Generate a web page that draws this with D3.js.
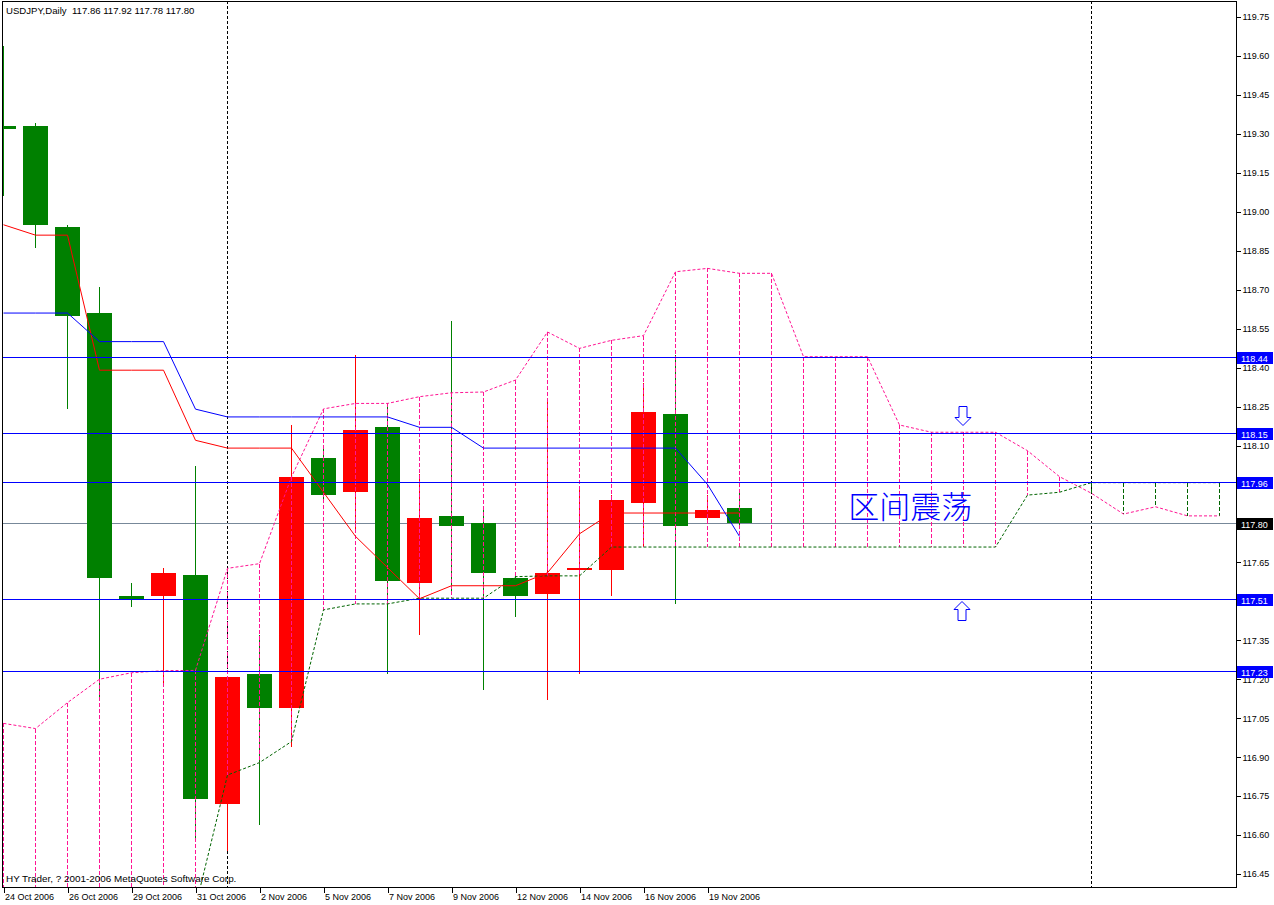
<!DOCTYPE html>
<html><head><meta charset="utf-8">
<script src="https://cdn.jsdelivr.net/npm/d3@7"></script>
<style>
body{margin:0;background:#fff;}
svg{display:block;}
text{font-family:"Liberation Sans",Arial,sans-serif;}
</style>
</head><body>
<svg id="chart" width="1274" height="905"></svg>
<script>
// ---------- DATA ----------
const dates = ["24 Oct 2006","25 Oct 2006","26 Oct 2006","27 Oct 2006","29 Oct 2006","30 Oct 2006",
  "31 Oct 2006","1 Nov 2006","2 Nov 2006","3 Nov 2006","5 Nov 2006","6 Nov 2006","7 Nov 2006",
  "8 Nov 2006","9 Nov 2006","10 Nov 2006","12 Nov 2006","13 Nov 2006","14 Nov 2006","15 Nov 2006",
  "16 Nov 2006","17 Nov 2006","19 Nov 2006","20 Nov 2006"];
const openP  = [119.33,119.33,118.94,118.61,117.52,117.52,117.60,116.72,117.22,117.09,118.05,117.92,118.17,117.57,117.83,117.80,117.59,117.53,117.62,117.62,117.88,118.22,117.82,117.86];
const highP  = [119.64,119.34,118.95,118.71,117.57,117.63,118.02,117.21,117.37,118.18,118.10,118.45,118.26,117.99,118.58,117.85,117.60,118.28,117.94,117.91,118.34,118.45,117.91,117.92];
const lowP   = [119.06,118.86,118.24,117.13,117.48,117.18,116.59,116.54,116.64,116.94,117.89,117.77,117.22,117.37,117.53,117.16,117.44,117.12,117.22,117.52,117.71,117.49,117.81,117.78];
const closeP = [119.32,118.95,118.60,117.59,117.51,117.61,116.74,117.21,117.09,117.98,117.91,118.16,117.58,117.82,117.79,117.61,117.52,117.61,117.63,117.89,118.23,117.79,117.85,117.80];
const tenkan = [118.95,118.91,118.91,118.39,118.39,118.39,118.12,118.09,118.09,118.09,117.92,117.75,117.63,117.51,117.56,117.56,117.56,117.61,117.76,117.84,117.84,117.84,117.84,117.84];
const kijun  = [118.61,118.61,118.61,118.50,118.50,118.50,118.24,118.21,118.21,118.21,118.21,118.21,118.21,118.17,118.17,118.09,118.09,118.09,118.09,118.09,118.09,118.09,117.95,117.75];
// Senkou spans (shifted forward, index 0..38 visible)
const spanPink = [117.03,117.01,117.11,117.20,117.225,117.233,117.234,117.627,117.645,117.979,118.241,118.262,118.262,118.288,118.303,118.306,118.352,118.537,118.474,118.505,118.523,118.769,118.782,118.763,118.763,118.442,118.442,118.442,118.179,118.151,118.151,118.151,118.080,117.980,117.916,117.836,117.864,117.829,117.829];
const spanGreen = [116.10,116.10,116.15,116.20,116.25,116.28,116.323,116.831,116.879,116.960,117.467,117.490,117.490,117.512,117.512,117.512,117.595,117.598,117.598,117.709,117.709,117.709,117.709,117.709,117.709,117.709,117.709,117.709,117.709,117.709,117.709,117.709,117.909,117.920,117.957,117.957,117.957,117.957,117.957];
const levelLines = [118.44,118.15,117.96,117.51,117.23];
const bidPrice = 117.80;
const priceTicks = [119.75,119.60,119.45,119.30,119.15,119.00,118.85,118.70,118.55,118.40,118.25,118.10,117.95,117.80,117.65,117.50,117.35,117.20,117.05,116.90,116.75,116.60,116.45];
const dateTickIdx = [0,2,4,6,8,10,12,14,16,18,20,22];
const separatorIdx = [7,34];
const titleText = "USDJPY,Daily  117.86 117.92 117.78 117.80";
const copyText = "HY Trader, ? 2001-2006 MetaQuotes Software Corp.";
const noteText = "区间震荡";
const notePos = {i:26.40, p:117.822};
const arrowDown = {i:30, p:118.18};
const arrowUp = {i:30, p:117.50};

// ---------- LAYOUT ----------
const L = 2, R = 1236, T = 1, B = 887;
const svg = d3.select("#chart");
const x = d3.scaleLinear().domain([0,38]).range([3.5, 3.5+32*38]);
const y = d3.scaleLinear().domain([116.45,119.75]).range([874,17]);

svg.append("defs").append("clipPath").attr("id","plot")
  .append("rect").attr("x",L).attr("y",T).attr("width",R-L).attr("height",B-T);

const g = svg.append("g").attr("clip-path","url(#plot)").attr("shape-rendering","crispEdges");

// period separators
g.selectAll("line.sep").data(separatorIdx).join("line")
  .attr("x1",d=>Math.round(x(d))-0.5).attr("x2",d=>Math.round(x(d))-0.5)
  .attr("y1",T).attr("y2",B).attr("stroke","#000").attr("stroke-dasharray","3,2");

// bid line
g.append("line").attr("x1",L).attr("x2",R).attr("y1",Math.round(y(bidPrice))+0.5).attr("y2",Math.round(y(bidPrice))+0.5)
  .attr("stroke","#778899");

// candles
const idx = d3.range(openP.length);
const colorOf = i => closeP[i] >= openP[i] ? "#ff0000" : "#008000";
g.selectAll("line.wick").data(idx).join("line")
  .attr("x1",i=>x(i)).attr("x2",i=>x(i))
  .attr("y1",i=>y(highP[i])).attr("y2",i=>y(lowP[i]))
  .attr("stroke",colorOf);
g.selectAll("rect.body").data(idx).join("rect")
  .attr("x",i=>x(i)-12.5).attr("width",25)
  .attr("y",i=>y(Math.max(openP[i],closeP[i])))
  .attr("height",i=>Math.max(1.5, Math.abs(y(openP[i])-y(closeP[i]))))
  .attr("fill",colorOf);

// cloud verticals
const cidx = d3.range(spanPink.length);
g.selectAll("line.cloud").data(cidx).join("line")
  .attr("x1",i=>x(i)).attr("x2",i=>x(i))
  .attr("y1",i=>y(Math.max(spanPink[i],spanGreen[i])))
  .attr("y2",i=>y(Math.min(spanPink[i],spanGreen[i])))
  .attr("stroke",i=>spanPink[i]>=spanGreen[i] ? "#ff1493" : "#006400")
  .attr("stroke-dasharray","4,2");

const line = arr => d3.line().x((d,i)=>x(i)).y(d=>y(d))(arr);
g.append("path").attr("d",line(spanPink)).attr("fill","none").attr("stroke","#ff1493").attr("stroke-dasharray","3,2").attr("shape-rendering","auto");
g.append("path").attr("d",line(spanGreen)).attr("fill","none").attr("stroke","#006400").attr("stroke-dasharray","3,2").attr("shape-rendering","auto");
g.append("path").attr("d",line(tenkan)).attr("fill","none").attr("stroke","#ff0000").attr("shape-rendering","auto");
g.append("path").attr("d",line(kijun)).attr("fill","none").attr("stroke","#0000ff").attr("shape-rendering","auto");

// horizontal level lines
g.selectAll("line.lvl").data(levelLines).join("line")
  .attr("x1",L).attr("x2",R)
  .attr("y1",d=>Math.round(y(d))+0.5).attr("y2",d=>Math.round(y(d))+0.5)
  .attr("stroke","#0000ff");

// note text
svg.append("text").attr("x",x(notePos.i)).attr("y",y(notePos.p))
  .attr("fill","#0000ff").style("font-family",'"Noto Sans CJK SC"').style("font-size","31px")
  .style("font-weight","300").text(noteText);

// arrows
function arrowPath(dir){ // tip at (0,0); 1 = down, -1 = up
  const s = dir;
  return `M0,0 L8,${-8*s} L4,${-8*s} L4,${-19*s} L-4,${-19*s} L-4,${-8*s} L-8,${-8*s} Z`;
}
svg.append("path").attr("transform",`translate(${x(arrowDown.i)-0.5},${Math.round(y(arrowDown.p))+0.5})`)
  .attr("d",arrowPath(1)).attr("fill","#fff").attr("stroke","#0000ff");
svg.append("path").attr("transform",`translate(${x(arrowUp.i)-1.5},${Math.round(y(arrowUp.p))+0.5})`)
  .attr("d",arrowPath(-1)).attr("fill","#fff").attr("stroke","#0000ff");

// frame
svg.append("rect").attr("x",L+0.5).attr("y",T+0.5).attr("width",R-L).attr("height",B-T)
  .attr("fill","none").attr("stroke","#000").attr("shape-rendering","crispEdges");

// right axis
const ax = svg.append("g").attr("transform",`translate(${R+0.5},0)`)
  .call(d3.axisRight(y).tickValues(priceTicks).tickSize(4).tickSizeOuter(0).tickPadding(2).tickFormat(d3.format(".2f")));
ax.select(".domain").remove();
ax.selectAll("line").attr("shape-rendering","crispEdges");
ax.selectAll("text").style("font-size","9px").style("font-family",'"Liberation Sans",Arial').attr("fill","#000");

// bottom axis
const bx = svg.append("g").attr("transform",`translate(0,${B+0.5})`)
  .call(d3.axisBottom(x).tickValues(dateTickIdx).tickSize(5).tickSizeOuter(0).tickFormat(i=>dates[i]));
bx.select(".domain").remove();
bx.selectAll("line").attr("shape-rendering","crispEdges");
bx.selectAll("text").attr("text-anchor","start").attr("x",1).attr("y",6).attr("dy","0.71em")
  .style("font-size","9px").style("font-family",'"Liberation Sans",Arial').attr("fill","#000");

// price label boxes
const boxes = levelLines.map(v=>({v, bg:"#0000ff"})).concat([{v:bidPrice,bg:"#000"}]);
const bg = svg.append("g");
bg.selectAll("rect").data(boxes).join("rect")
  .attr("x",R+1).attr("width",36).attr("y",d=>Math.round(y(d.v))-5).attr("height",12)
  .attr("fill",d=>d.bg).attr("shape-rendering","crispEdges");
bg.selectAll("text").data(boxes).join("text")
  .attr("x",R+5).attr("y",d=>Math.round(y(d.v))+4.5)
  .attr("fill","#fff").style("font-size","9px").text(d=>d3.format(".2f")(d.v));

// title and copyright
svg.append("text").attr("x",6).attr("y",14).style("font-size","9.6px").attr("fill","#000").style("white-space","pre").text(titleText);
svg.append("text").attr("x",6).attr("y",882).style("font-size","9.9px").attr("fill","#000").text(copyText);
</script>
</body></html>
